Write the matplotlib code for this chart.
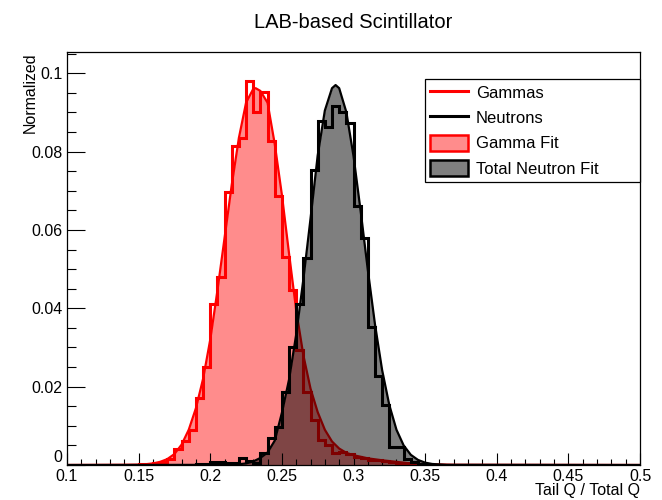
import numpy as np
import matplotlib
matplotlib.use("Agg")
import matplotlib.pyplot as plt
from matplotlib.lines import Line2D
from matplotlib.patches import Patch
from matplotlib.ticker import MultipleLocator, FuncFormatter

plt.rcParams['font.family'] = ['Liberation Sans', 'DejaVu Sans']

# ---------------- data ----------------
title = "LAB-based Scintillator"
x_label = "Tail Q / Total Q"
y_label = "Normalized"
legend_labels = ["Gammas", "Neutrons", "Gamma Fit", "Total Neutron Fit"]

bin_edges = np.round(np.linspace(0.1, 0.5, 81), 4)   # 0.005 wide bins

gamma_bin_start = [0.150, 0.155, 0.160, 0.165, 0.170, 0.175, 0.180, 0.185, 0.190, 0.195,
                   0.200, 0.205, 0.210, 0.215, 0.220, 0.225, 0.230, 0.235, 0.240, 0.245,
                   0.250, 0.255, 0.260, 0.265, 0.270, 0.275, 0.280, 0.285, 0.290, 0.295,
                   0.300, 0.305, 0.310, 0.315, 0.320, 0.325, 0.330, 0.335, 0.340, 0.345,
                   0.350]
gamma_counts = [0.0002, 0.0003, 0.0005, 0.0008, 0.0015, 0.0040, 0.0060, 0.0089, 0.0170, 0.0251,
                0.0410, 0.0481, 0.0698, 0.0815, 0.0834, 0.0980, 0.0902, 0.0952, 0.0826, 0.0687,
                0.0532, 0.0447, 0.0294, 0.0187, 0.0115, 0.0064, 0.0051, 0.0030, 0.0032, 0.0028,
                0.0020, 0.0018, 0.0014, 0.0012, 0.0009, 0.0007, 0.0006, 0.0004, 0.0003, 0.0002,
                0.0001]

neutron_bin_start = [0.190, 0.195, 0.200, 0.205, 0.210, 0.215, 0.220, 0.225, 0.230, 0.235,
                     0.240, 0.245, 0.250, 0.255, 0.260, 0.265, 0.270, 0.275, 0.280, 0.285,
                     0.290, 0.295, 0.300, 0.305, 0.310, 0.315, 0.320, 0.325, 0.330, 0.335,
                     0.340, 0.345, 0.350]
neutron_counts = [0.0002, 0.0003, 0.0008, 0.0008, 0.0004, 0.0005, 0.0017, 0.0010, 0.0004, 0.0030,
                  0.0068, 0.0098, 0.0187, 0.0300, 0.0410, 0.0528, 0.0753, 0.0877, 0.0864, 0.0917,
                  0.0902, 0.0873, 0.0660, 0.0580, 0.0353, 0.0227, 0.0153, 0.0047, 0.0047, 0.0015,
                  0.0008, 0.0003, 0.0002]

gamma_fit_x = [0.10, 0.14, 0.15, 0.155, 0.16, 0.165, 0.17, 0.175, 0.18, 0.185, 0.19, 0.195,
               0.20, 0.205, 0.21, 0.215, 0.22, 0.225, 0.23, 0.2317, 0.235, 0.24, 0.245, 0.25,
               0.255, 0.26, 0.265, 0.27, 0.275, 0.28, 0.285, 0.29, 0.295, 0.30, 0.31, 0.32,
               0.33, 0.34, 0.35, 0.37, 0.50]
gamma_fit_y = [0.0, 0.00005, 0.0001, 0.0002, 0.0004, 0.0008, 0.0015, 0.0028, 0.0052, 0.0090, 0.0145, 0.0220,
               0.0320, 0.0445, 0.0580, 0.0715, 0.0835, 0.0925, 0.0960, 0.0962, 0.0955, 0.0925, 0.0820, 0.0690,
               0.0540, 0.0395, 0.0280, 0.0195, 0.0135, 0.0090, 0.0060, 0.0042, 0.0031, 0.0025, 0.0017, 0.0012,
               0.0008, 0.0004, 0.0002, 0.00005, 0.0]

neutron_fit_x = [0.10, 0.20, 0.21, 0.22, 0.225, 0.23, 0.235, 0.24, 0.245, 0.25, 0.255, 0.26,
                 0.265, 0.27, 0.275, 0.28, 0.285, 0.2875, 0.29, 0.295, 0.30, 0.305, 0.31, 0.315,
                 0.32, 0.325, 0.33, 0.335, 0.34, 0.345, 0.35, 0.355, 0.365, 0.50]
neutron_fit_y = [0.0, 0.00003, 0.0001, 0.0002, 0.0004, 0.0009, 0.0018, 0.0032, 0.0062, 0.0133, 0.0218, 0.0333,
                 0.0474, 0.0629, 0.0790, 0.0905, 0.0962, 0.0970, 0.0962, 0.0901, 0.0789, 0.0648, 0.0498, 0.0359,
                 0.0242, 0.0153, 0.0090, 0.0050, 0.0026, 0.0013, 0.0006, 0.00025, 0.00005, 0.0]

# ---------------- build histogram arrays ----------------
def fill_hist(starts, counts):
    vals = np.zeros(len(bin_edges) - 1)
    idx = np.rint((np.array(starts) - bin_edges[0]) / (bin_edges[1] - bin_edges[0])).astype(int)
    vals[idx] = counts
    return vals

gamma_hist = fill_hist(gamma_bin_start, gamma_counts)
neutron_hist = fill_hist(neutron_bin_start, neutron_counts)

# ---------------- figure ----------------
fig = plt.figure(figsize=(6.62, 5.0), dpi=100)
ax = fig.add_axes([67 / 662, 35 / 500, 573 / 662, 413 / 500])

red_fill = (1.0, 0.0, 0.0, 0.45)
black_fill = (0.0, 0.0, 0.0, 0.5)

# gamma fit (filled) + gamma histogram
ax.fill_between(gamma_fit_x, gamma_fit_y, 0, color=red_fill, linewidth=0, zorder=1)
ax.plot(gamma_fit_x, gamma_fit_y, color='red', lw=1.6, zorder=2)
ax.stairs(gamma_hist, bin_edges, color='red', lw=2.2, zorder=3)

# neutron fit (filled, over the gammas) + neutron histogram
ax.fill_between(neutron_fit_x, neutron_fit_y, 0, color=black_fill, linewidth=0, zorder=4)
ax.plot(neutron_fit_x, neutron_fit_y, color='black', lw=1.6, zorder=5)
ax.stairs(neutron_hist, bin_edges, color='black', lw=2.2, zorder=6)

ax.set_xlim(0.1, 0.5)
ax.set_ylim(0, 0.10544)

# ticks (ROOT style: inside, bottom/left only)
ax.xaxis.set_major_locator(MultipleLocator(0.05))
ax.xaxis.set_minor_locator(MultipleLocator(0.01))
ax.yaxis.set_major_locator(MultipleLocator(0.02))
ax.yaxis.set_minor_locator(MultipleLocator(0.005))
ax.tick_params(axis='x', which='major', direction='in', length=8.5, width=0.8, pad=3.0,
               labelsize=11.5, top=False)
ax.tick_params(axis='x', which='minor', direction='in', length=4.0, width=0.8, top=False)
ax.tick_params(axis='y', which='major', direction='in', length=13, width=0.8, pad=3.5,
               labelsize=11.5, right=False)
ax.tick_params(axis='y', which='minor', direction='in', length=6.5, width=0.8, right=False)
ax.xaxis.set_major_formatter(FuncFormatter(lambda v, p: f"{v:g}"))
# the y "0" label is drawn separately, lifted a little above the x "0.1" label
ax.yaxis.set_major_formatter(FuncFormatter(lambda v, p: "" if abs(v) < 1e-9 else f"{v:g}"))
ax.annotate("0", xy=(0, 0), xycoords=('axes fraction', 'data'), xytext=(-5, 7),
            textcoords='offset pixels', ha='right', va='center', fontsize=11.5)
for s in ax.spines.values():
    s.set_linewidth(0.9)

# labels
ax.set_title(title, fontsize=14.5, pad=17)
ax.set_xlabel(x_label, fontsize=11.5)
ax.xaxis.label.set(ha='right', va='center')
ax.xaxis.set_label_coords(1.0, -0.062)
ax.set_ylabel(y_label, fontsize=11.5)
ax.yaxis.label.set(ha='right', va='center', rotation_mode='anchor')
ax.yaxis.set_label_coords(-0.0646, 1.0)

# legend
handles = [
    Line2D([], [], color='red', lw=2.2),
    Line2D([], [], color='black', lw=2.2),
    Patch(facecolor=red_fill, edgecolor='red', lw=1.8),
    Patch(facecolor=black_fill, edgecolor='black', lw=1.8),
]
leg = ax.legend(handles, legend_labels, loc='upper left',
                bbox_to_anchor=(0.625, 0.6925, 0.375, 0.2421), mode='expand',
                fontsize=12, frameon=True, fancybox=False, framealpha=1,
                edgecolor='black', borderpad=0.3, labelspacing=0.5,
                handlelength=2.3, handleheight=1.15, handletextpad=0.45, borderaxespad=0)
leg.get_frame().set_linewidth(0.9)
leg.set_zorder(10)

fig.savefig("out.png", dpi=100)
